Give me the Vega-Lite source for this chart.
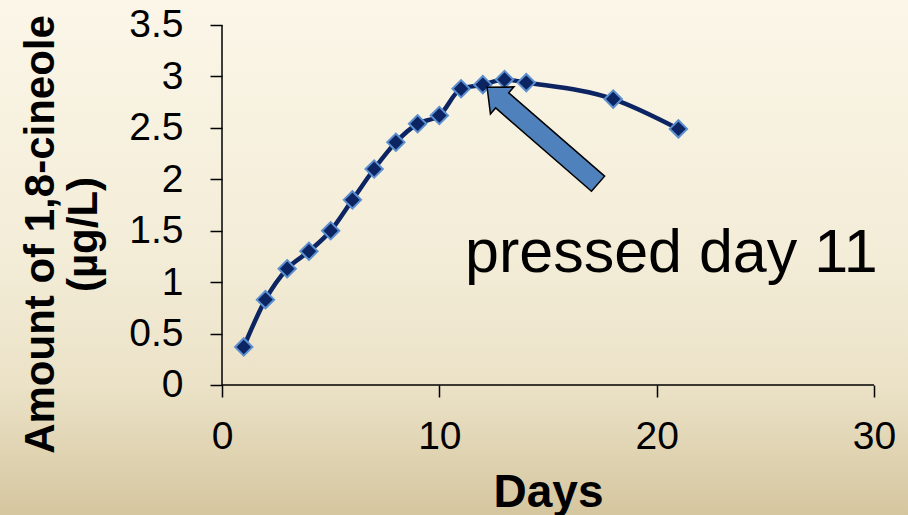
{
  "$schema": "https://vega.github.io/schema/vega-lite/v6.json",
  "width": 908,
  "height": 515,
  "padding": 0,
  "autosize": {"type": "none"},
  "config": {
    "view": {"stroke": null},
    "font": "Liberation Sans"
  },
  "datasets": {
    "cineole": [
      {"day": 1, "amount": 0.37},
      {"day": 2, "amount": 0.83},
      {"day": 3, "amount": 1.13},
      {"day": 4, "amount": 1.30},
      {"day": 5, "amount": 1.50},
      {"day": 6, "amount": 1.80},
      {"day": 7, "amount": 2.10},
      {"day": 8, "amount": 2.36},
      {"day": 9, "amount": 2.54},
      {"day": 10, "amount": 2.62},
      {"day": 11, "amount": 2.88},
      {"day": 12, "amount": 2.92},
      {"day": 13, "amount": 2.97},
      {"day": 14, "amount": 2.94},
      {"day": 18, "amount": 2.78},
      {"day": 21, "amount": 2.49}
    ]
  },
  "layer": [
    {
      "data": {"values": [{}]},
      "mark": {
        "type": "rect",
        "color": {
          "gradient": "linear",
          "x1": 0, "y1": 0, "x2": 0, "y2": 1,
          "stops": [
            {"offset": 0, "color": "#fbf6e8"},
            {"offset": 0.5, "color": "#f3ecd7"},
            {"offset": 0.75, "color": "#ebe2c7"},
            {"offset": 1, "color": "#d5c69f"}
          ]
        }
      },
      "encoding": {}
    },
    {
      "data": {"name": "cineole"},
      "mark": {"type": "line", "interpolate": "monotone", "color": "#0c2461", "strokeWidth": 4.5},
      "encoding": {
        "x": {
          "field": "day",
          "type": "quantitative",
          "scale": {"domain": [-10.215, 31.564], "nice": false, "zero": false},
          "axis": {
            "orient": "bottom",
            "offset": -130,
            "zindex": 1,
            "domain": false,
            "grid": false,
            "values": [0, 10, 20, 30],
            "tickSize": 12,
            "tickWidth": 1.5,
            "tickColor": "#000000",
            "labelFont": "Liberation Sans",
            "labelFontSize": 39,
            "labelColor": "#000000",
            "labelPadding": 20,
            "labelFlush": false,
            "labelOverlap": false,
            "labelBound": false,
            "title": "Days",
            "titleFont": "Liberation Sans",
            "titleFontSize": 46,
            "titleFontWeight": "bold",
            "titleColor": "#000000",
            "titleX": 548,
            "titleY": 121,
            "titleBaseline": "alphabetic",
            "titleAlign": "center"
          }
        },
        "y": {
          "field": "amount",
          "type": "quantitative",
          "scale": {"domain": [-1.2639, 3.743], "nice": false, "zero": false},
          "axis": {
            "orient": "left",
            "offset": -222,
            "zindex": 1,
            "domain": false,
            "grid": false,
            "values": [0, 0.5, 1, 1.5, 2, 2.5, 3, 3.5],
            "format": "~g",
            "tickSize": 12,
            "tickWidth": 1.5,
            "tickColor": "#000000",
            "labelFont": "Liberation Sans",
            "labelFontSize": 39,
            "labelColor": "#000000",
            "labelPadding": 27,
            "labelFlush": false,
            "labelOverlap": false,
            "labelBound": false,
            "title": ["Amount of 1,8-cineole", "(µg/L)"],
            "titleFont": "Liberation Sans",
            "titleFontSize": 42,
            "titleFontWeight": "bold",
            "titleColor": "#000000",
            "titleAngle": -90,
            "titleLineHeight": 43,
            "titleX": -169,
            "titleY": 234,
            "titleBaseline": "alphabetic",
            "titleAlign": "center"
          }
        }
      }
    },
    {
      "data": {"name": "cineole"},
      "mark": {"type": "point", "shape": "diamond", "filled": true, "size": 300, "fill": "#0c2461", "stroke": "#5b8fd0", "strokeWidth": 2, "opacity": 1},
      "encoding": {
        "x": {"field": "day", "type": "quantitative"},
        "y": {"field": "amount", "type": "quantitative"}
      }
    },
    {
      "data": {"values": [{}]},
      "mark": {"type": "rule", "color": "#000000", "strokeWidth": 1.5},
      "encoding": {
        "x": {"datum": 0, "type": "quantitative"},
        "x2": {"datum": 30},
        "y": {"datum": 0, "type": "quantitative"}
      }
    },
    {
      "data": {"values": [{}]},
      "mark": {"type": "rule", "color": "#000000", "strokeWidth": 1.5},
      "encoding": {
        "x": {"datum": 0, "type": "quantitative"},
        "y": {"datum": 0, "type": "quantitative"},
        "y2": {"datum": 3.5}
      }
    },
    {
      "data": {"values": [{}]},
      "mark": {
        "type": "point",
        "shape": "M -1 -0.136 L 0.728 -0.136 L 0.728 -0.244 L 1 0 L 0.728 0.244 L 0.728 0.136 L -1 0.136 Z",
        "size": 21609,
        "angle": 221,
        "filled": true,
        "fill": "#4f81bd",
        "stroke": "#000000",
        "strokeWidth": 1.5,
        "opacity": 1
      },
      "encoding": {
        "x": {"datum": 14.75, "type": "quantitative"},
        "y": {"datum": 2.426, "type": "quantitative"}
      }
    },
    {
      "data": {"values": [{}]},
      "mark": {"type": "text", "text": "pressed day 11", "font": "Liberation Sans", "fontSize": 61, "align": "left", "baseline": "alphabetic", "color": "#000000"},
      "encoding": {
        "x": {"datum": 11.18, "type": "quantitative"},
        "y": {"datum": 1.0986, "type": "quantitative"}
      }
    }
  ]
}
